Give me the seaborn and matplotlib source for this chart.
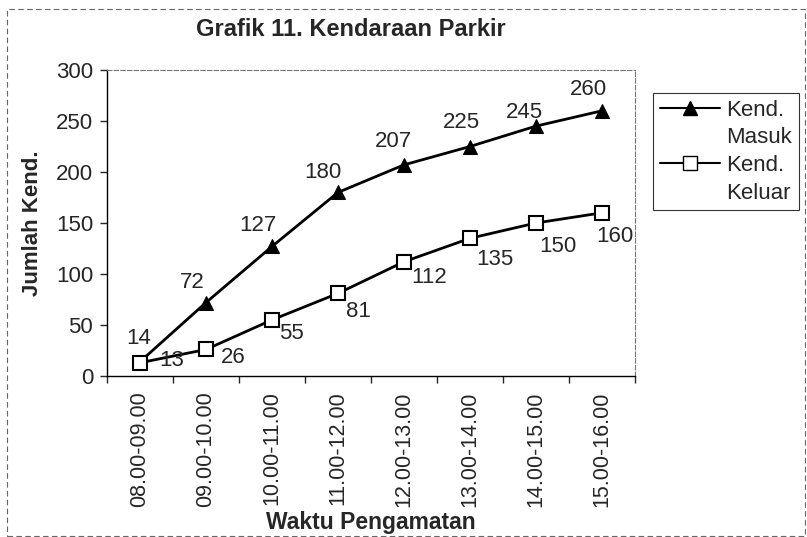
import matplotlib
matplotlib.use("Agg")
import matplotlib.pyplot as plt
import seaborn as sns
import pandas as pd
import numpy as np
from matplotlib.patches import Rectangle
from matplotlib.lines import Line2D

categories = ["08.00-09.00", "09.00-10.00", "10.00-11.00", "11.00-12.00",
              "12.00-13.00", "13.00-14.00", "14.00-15.00", "15.00-16.00"]
masuk = [14, 72, 127, 180, 207, 225, 245, 260]
keluar = [13, 26, 55, 81, 112, 135, 150, 160]
series_names = ["Kend.\nMasuk", "Kend.\nKeluar"]

# label placement offsets (pixels, right / up) -- styling only
masuk_off = [(-1, 23), (-14, 20), (-14, 21), (-15, 20), (-11, 23), (-9, 24), (-12, 14), (-14, 21)]
keluar_off = [(32, 2), (27, -8), (19, -14), (20, -18), (25, -16), (25, -21), (22, -24), (13, -24)]

sns.set_style("white")
plt.rcParams['font.family'] = ['Liberation Sans', 'DejaVu Sans']

df = pd.DataFrame({
    "pos": list(range(len(categories))) * 2,
    "val": masuk + keluar,
    "series": [series_names[0]] * len(masuk) + [series_names[1]] * len(keluar),
})

W, H = 807, 537
fig = plt.figure(figsize=(W / 100, H / 100), dpi=100)
ax = fig.add_axes([107 / W, 1 - 376 / H, (635 - 107) / W, (376 - 70) / H])

sns.lineplot(data=df, x="pos", y="val", hue="series", style="series",
             markers={series_names[0]: "^", series_names[1]: "s"},
             dashes=False, palette={series_names[0]: "black", series_names[1]: "black"},
             linewidth=2, markersize=10, ax=ax, legend=False)
lines = ax.get_lines()
lines[0].set_markerfacecolor("black")
lines[0].set_markeredgecolor("black")
lines[1].set_markerfacecolor("white")
lines[1].set_markeredgecolor("black")
lines[1].set_markeredgewidth(1.5)

ax.set_xlim(-0.5, len(categories) - 0.5)
ax.set_ylim(0, 300)
ax.set_yticks(np.arange(0, 301, 50))
ax.tick_params(axis="y", labelsize=16, length=5, width=1, direction="out", left=True, pad=5)
ax.set_xticks(range(len(categories)))
ax.set_xticklabels(categories, rotation=90, fontsize=15.5)
ax.set_xticks(np.arange(-0.5, len(categories), 1), minor=True)
ax.tick_params(axis="x", which="major", length=0, pad=11)
ax.tick_params(axis="x", which="minor", length=5, width=1, direction="out", bottom=True)

for s in ["left", "bottom"]:
    ax.spines[s].set_color("black")
    ax.spines[s].set_linewidth(1)
for s in ["top", "right"]:
    ax.spines[s].set_color("#777777")
    ax.spines[s].set_linestyle((0, (4, 2)))
    ax.spines[s].set_linewidth(0.8)

ax.set_xlabel("Waktu Pengamatan", fontsize=16.5, fontweight="bold", labelpad=3)
ax.set_ylabel("Jumlah Kend.", fontsize=16, fontweight="bold", labelpad=9)
ax.grid(False)

px = 0.72  # points per pixel
for i, v in enumerate(masuk):
    dx, dy = masuk_off[i]
    ax.annotate(str(v), (i, v), xytext=(dx * px, dy * px), textcoords="offset points",
                ha="center", va="center", fontsize=16)
for i, v in enumerate(keluar):
    dx, dy = keluar_off[i]
    ax.annotate(str(v), (i, v), xytext=(dx * px, dy * px), textcoords="offset points",
                ha="center", va="center", fontsize=16)

# legend: handle aligned with the first line of each two-line entry
blank = Line2D([], [], color="none")
h_masuk = Line2D([], [], color="black", lw=1.5, marker="^", markersize=10,
                 markerfacecolor="black", markeredgecolor="black", markevery=[0])
h_keluar = Line2D([], [], color="black", lw=1.5, marker="s", markersize=10,
                  markerfacecolor="white", markeredgecolor="black", markevery=[0])
leg_handles, leg_labels = [], []
for h, name in zip([h_masuk, h_keluar], series_names):
    parts = name.split("\n")
    leg_handles += [h, blank]
    leg_labels += parts
leg = fig.legend(leg_handles, leg_labels, loc="upper left",
                 bbox_to_anchor=(653 / W, 1 - 93 / H), fontsize=16,
                 frameon=True, fancybox=False, handlelength=2.7, handletextpad=0.3,
                 labelspacing=0.3, borderpad=0.3, borderaxespad=0)
leg.get_frame().set_edgecolor("black")
leg.get_frame().set_linewidth(0.8)
leg._legend_box.align = "left"

fig.text(351 / W, 1 - 30 / H, "Grafik 11. Kendaraan Parkir", ha="center", va="center",
         fontsize=17, fontweight="bold")

fig.patches.append(Rectangle((7 / W, 1 / H), 798 / W, 527 / H, transform=fig.transFigure,
                             fill=False, edgecolor="#666666", linewidth=0.8,
                             linestyle=(0, (5, 3))))

fig.savefig("out.png", dpi=100)
